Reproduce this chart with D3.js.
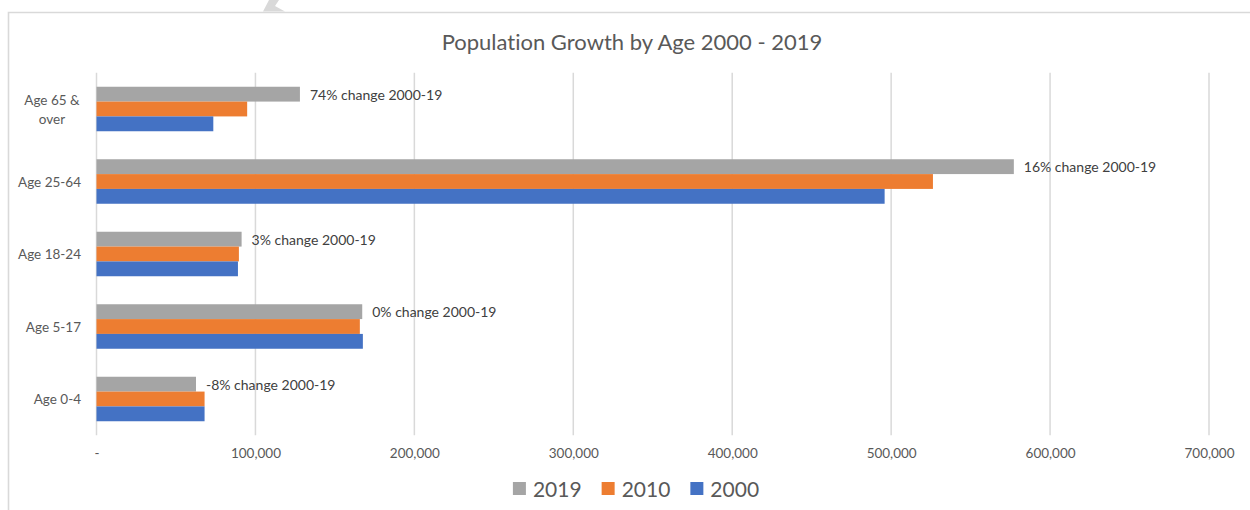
<!DOCTYPE html>
<html>
<head>
<meta charset="utf-8">
<script src="https://cdn.jsdelivr.net/npm/d3@7"></script>
<style>
  html, body { margin: 0; padding: 0; background: #ffffff; }
  svg { display: block; font-family: Lato, "Open Sans", sans-serif; font-variant-ligatures: none; font-feature-settings: "liga" 0, "clig" 0; }
</style>
</head>
<body>
<svg id="chart" width="1250" height="510"></svg>
<script>
// ---- data ----
const title = "Population Growth by Age 2000 - 2019";
const categories = ["Age 65 & over", "Age 25-64", "Age 18-24", "Age 5-17", "Age 0-4"];
const seriesNames = ["2019", "2010", "2000"];
const values2019 = [128000, 577200, 91300, 167200, 62600];
const values2010 = [94800, 526300, 89600, 165700, 68000];
const values2000 = [73500, 495900, 89000, 167600, 68000];
const changeLabels = ["74% change 2000-19", "16% change 2000-19", "3% change 2000-19", "0% change 2000-19", "-8% change 2000-19"];
const tickValues = [0, 100000, 200000, 300000, 400000, 500000, 600000, 700000];
const tickLabels = ["-", "100,000", "200,000", "300,000", "400,000", "500,000", "600,000", "700,000"];
const colors = ["#a5a5a5", "#ed7d31", "#4472c4"];

const seriesValues = [values2019, values2010, values2000];

const svg = d3.select("#chart");

// chart frame
svg.append("path")
  .attr("d", "M8.5,510 L8.5,12.5 L1250,12.5")
  .attr("fill", "none").attr("stroke", "#d9d9d9").attr("stroke-width", 1.6);
svg.append("polygon")
  .attr("points", "269,0 279,0 275,6 285,11.5 263,11.5")
  .attr("fill", "#d9d9d9");

// scales
const x = d3.scaleLinear().domain([0, 700000]).range([96.5, 1209]);
const y = d3.scaleBand().domain(categories).range([72.75, 435.25]).paddingInner(0).paddingOuter(0);
const bw = y.bandwidth();
const groupH = 44.5;
const yInner = d3.scaleBand().domain(seriesNames).range([(bw - groupH) / 2, (bw + groupH) / 2]);

// gridlines
svg.append("g").selectAll("line").data(tickValues).join("line")
  .attr("x1", d => x(d)).attr("x2", d => x(d))
  .attr("y1", 72.75).attr("y2", 435.25)
  .attr("stroke", "#d9d9d9").attr("stroke-width", 1.5);

// x tick labels via axis
const xAxis = d3.axisBottom(x).tickValues(tickValues)
  .tickFormat((d, i) => tickLabels[i]).tickSize(0).tickPadding(0);
const gx = svg.append("g").attr("transform", "translate(0,448)").call(xAxis);
gx.select(".domain").remove();
gx.selectAll("text").attr("fill", "#595959").attr("font-size", "13.5px")
  .attr("font-family", "Lato, sans-serif").attr("dy", "0.71em");

// bars
const rows = categories.map((c, i) => ({ cat: c, vals: seriesNames.map((s, j) => ({ s, v: seriesValues[j][i], c: colors[j] })) }));
const groups = svg.append("g").selectAll("g").data(rows).join("g")
  .attr("transform", d => `translate(0,${y(d.cat)})`);
groups.selectAll("rect").data(d => d.vals).join("rect")
  .attr("x", x(0))
  .attr("y", d => yInner(d.s))
  .attr("width", d => x(d.v) - x(0))
  .attr("height", yInner.bandwidth())
  .attr("fill", d => d.c);

// change labels next to 2019 bar
svg.append("g").selectAll("text").data(categories).join("text")
  .attr("x", (c, i) => x(values2019[i]) + 10)
  .attr("y", c => y(c) + yInner("2019") + yInner.bandwidth() / 2)
  .attr("dominant-baseline", "central")
  .attr("fill", "#404040").attr("font-size", "14px")
  .text((c, i) => changeLabels[i]);

// category labels (y axis)
const yLab = svg.append("g");
categories.forEach(c => {
  const cy = y(c) + bw / 2;
  if (c === "Age 65 & over") {
    const t = yLab.append("text").attr("text-anchor", "middle").attr("fill", "#595959").attr("font-size", "13.5px");
    t.append("tspan").attr("x", 52).attr("y", cy - 9).attr("dominant-baseline", "central").text("Age 65 &");
    t.append("tspan").attr("x", 52).attr("y", cy + 9.5).attr("dominant-baseline", "central").text("over");
  } else {
    yLab.append("text").attr("x", 81).attr("y", cy).attr("text-anchor", "end")
      .attr("dominant-baseline", "central").attr("fill", "#595959").attr("font-size", "13.5px").text(c);
  }
});

// title
svg.append("text").attr("x", 632).attr("y", 49.5).attr("text-anchor", "middle")
  .attr("fill", "#595959").attr("font-size", "22px").text(title);

// legend
const leg = svg.append("g");
const items = leg.selectAll("g").data(seriesNames).join("g");
items.append("rect").attr("width", 13).attr("height", 13).attr("y", 482).attr("fill", (d, i) => colors[i]);
items.append("text").attr("y", 497).attr("fill", "#595959").attr("font-size", "21px").text(d => d);
let cur = 0;
const widths = [];
items.each(function () {
  const w = d3.select(this).select("text").node().getComputedTextLength();
  widths.push(w);
});
const gap = 20, sq = 13, pad = 7;
const total = d3.sum(widths) + seriesNames.length * (sq + pad) + gap * (seriesNames.length - 1);
cur = 636 - total / 2;
items.each(function (d, i) {
  const g = d3.select(this);
  g.select("rect").attr("x", cur);
  g.select("text").attr("x", cur + sq + pad);
  cur += sq + pad + widths[i] + gap;
});
</script>
</body>
</html>
